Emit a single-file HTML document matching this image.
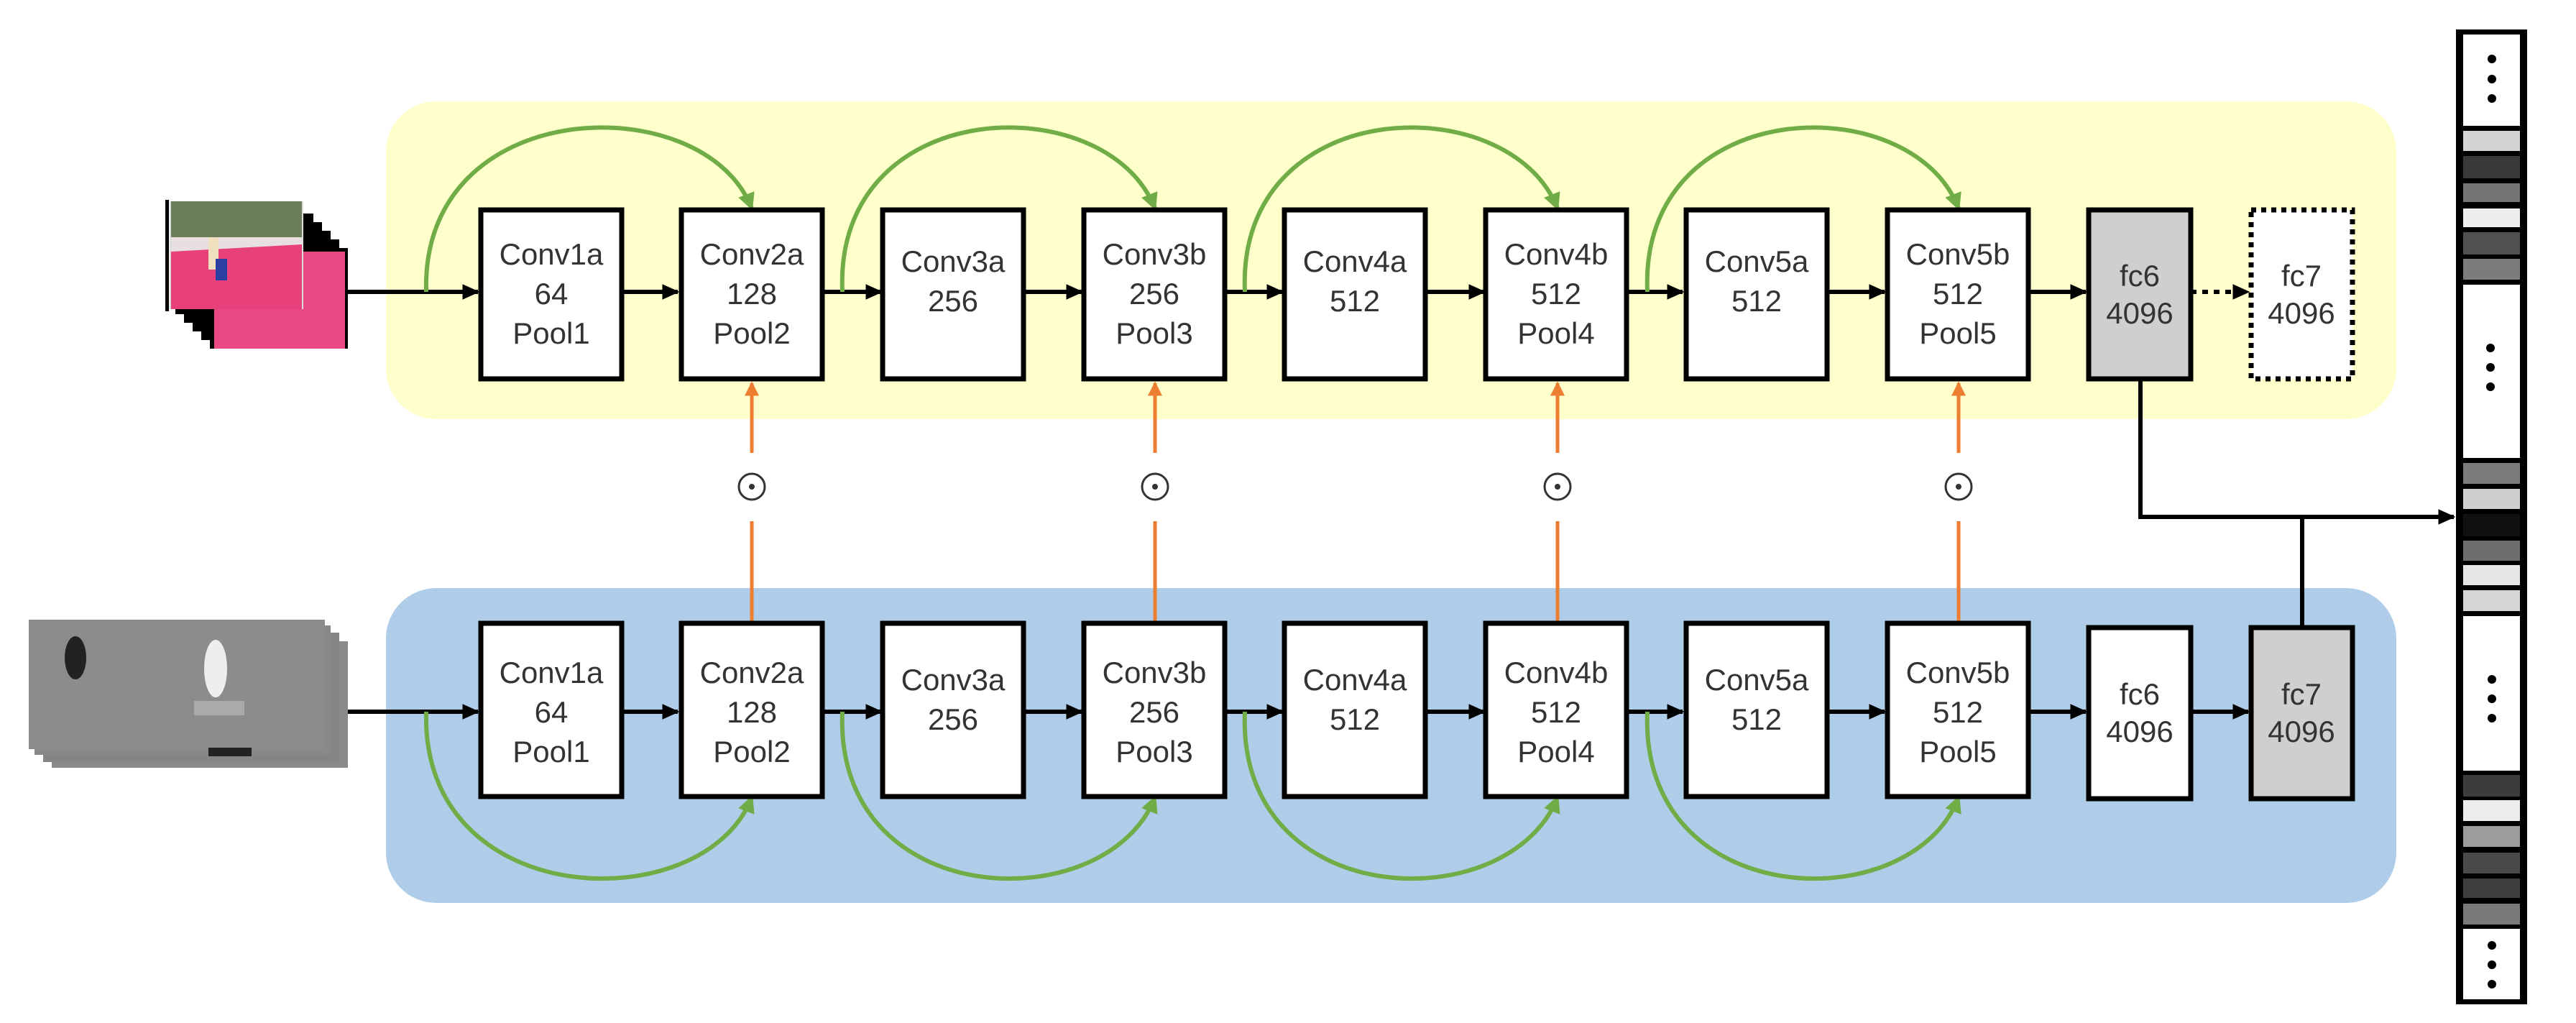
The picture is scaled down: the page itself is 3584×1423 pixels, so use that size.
<!DOCTYPE html>
<html><head><meta charset="utf-8"><style>
html,body{margin:0;padding:0;background:#fff;}
svg{display:block;}
text{font-family:"Liberation Sans","DejaVu Sans",sans-serif;font-size:42px;fill:#333;text-anchor:middle;}
</style></head><body>
<svg width="3584" height="1423" viewBox="0 0 3584 1423" xmlns="http://www.w3.org/2000/svg">
<defs>
<marker id="ab" markerWidth="4" markerHeight="3.6" refX="3.6" refY="1.8" orient="auto" markerUnits="strokeWidth"><path d="M0,0 L4,1.8 L0,3.6 z" fill="#000"/></marker>
<marker id="ag" markerWidth="4" markerHeight="4" refX="3.5" refY="2" orient="auto" markerUnits="strokeWidth"><path d="M0,0 L4,2 L0,4 z" fill="#70ad47"/></marker>
<marker id="ao" markerWidth="4" markerHeight="4" refX="3.5" refY="2" orient="auto" markerUnits="strokeWidth"><path d="M0,0 L4,2 L0,4 z" fill="#ed7d31"/></marker>
</defs>
<rect x="537" y="141" width="2797" height="442" rx="70" fill="#ffffcc"/>
<rect x="537" y="818" width="2797" height="438" rx="70" fill="#afcde9"/>

<!-- input frames top -->
<g>
<rect x="292" y="345" width="192" height="140" fill="#000"/>
<rect x="280" y="333" width="192" height="140" fill="#000"/>
<rect x="268" y="321" width="192" height="140" fill="#000"/>
<rect x="256" y="309" width="192" height="140" fill="#000"/>
<rect x="244" y="297" width="192" height="140" fill="#000"/>
<rect x="298" y="350" width="182" height="135" fill="#ea4a84"/>
<rect x="236" y="280" width="186" height="150" fill="#dcdcdc"/>
<rect x="238" y="280" width="182" height="50" fill="#6b7e5c"/>
<rect x="238" y="330" width="182" height="30" fill="#e8e0e0"/>
<polygon points="238,350 420,340 420,430 238,430" fill="#e8407a"/>
<rect x="290" y="330" width="14" height="45" fill="#f0e0c0"/>
<rect x="300" y="360" width="16" height="30" fill="#2a3fa0"/>
<rect x="230" y="278" width="5" height="155" fill="#000"/>
</g>
<!-- flow frames bottom -->
<g>
<rect x="72" y="892" width="412" height="176" fill="#8a8a8a"/>
<rect x="60" y="880" width="412" height="180" fill="#858585"/>
<rect x="48" y="870" width="412" height="180" fill="#888"/>
<rect x="40" y="862" width="412" height="180" fill="#8c8c8c"/>
<ellipse cx="105" cy="915" rx="15" ry="30" fill="#222"/>
<ellipse cx="300" cy="930" rx="16" ry="40" fill="#eee"/>
<rect x="270" y="975" width="70" height="20" fill="#aaa"/>
<rect x="290" y="1040" width="60" height="12" fill="#222"/>
</g>

<!-- main arrows -->
<g stroke="#000" stroke-width="6" fill="none" marker-end="url(#ab)">
<line x1="484" y1="406" x2="665" y2="406"/>
<line x1="865" y1="406" x2="943" y2="406"/>
<line x1="1145" y1="406" x2="1226" y2="406"/>
<line x1="1427" y1="406" x2="1505" y2="406"/>
<line x1="1706" y1="406" x2="1784" y2="406"/>
<line x1="1986" y1="406" x2="2065" y2="406"/>
<line x1="2266" y1="406" x2="2341" y2="406"/>
<line x1="2545" y1="406" x2="2622" y2="406"/>
<line x1="2824" y1="406" x2="2902" y2="406"/>
<line x1="3048" y1="406" x2="3128" y2="406" stroke-dasharray="8,8"/>
<line x1="484" y1="990" x2="665" y2="990"/>
<line x1="865" y1="990" x2="943" y2="990"/>
<line x1="1145" y1="990" x2="1226" y2="990"/>
<line x1="1427" y1="990" x2="1505" y2="990"/>
<line x1="1706" y1="990" x2="1784" y2="990"/>
<line x1="1986" y1="990" x2="2065" y2="990"/>
<line x1="2266" y1="990" x2="2341" y2="990"/>
<line x1="2545" y1="990" x2="2622" y2="990"/>
<line x1="2824" y1="990" x2="2902" y2="990"/>
<line x1="3048" y1="990" x2="3128" y2="990"/>
</g>

<!-- green arcs -->
<g stroke="#70ad47" stroke-width="6" fill="none" marker-end="url(#ag)">
<path d="M593,406 C585,130 980,120 1046,290"/>
<path d="M1172,406 C1160,130 1540,120 1607,290"/>
<path d="M1732,406 C1720,130 2100,120 2167,290"/>
<path d="M2292,406 C2280,130 2660,120 2725,290"/>
<path d="M593,990 C585,1270 980,1280 1046,1109"/>
<path d="M1172,990 C1160,1270 1540,1280 1607,1109"/>
<path d="M1732,990 C1720,1270 2100,1280 2167,1109"/>
<path d="M2292,990 C2280,1270 2660,1280 2725,1109"/>
</g>

<!-- orange -->
<g stroke="#ed7d31" stroke-width="5" fill="none">
<line x1="1046" y1="865" x2="1046" y2="725"/><line x1="1046" y1="630" x2="1046" y2="533" marker-end="url(#ao)"/>
<line x1="1607" y1="865" x2="1607" y2="725"/><line x1="1607" y1="630" x2="1607" y2="533" marker-end="url(#ao)"/>
<line x1="2167" y1="865" x2="2167" y2="725"/><line x1="2167" y1="630" x2="2167" y2="533" marker-end="url(#ao)"/>
<line x1="2725" y1="865" x2="2725" y2="725"/><line x1="2725" y1="630" x2="2725" y2="533" marker-end="url(#ao)"/>
</g>
<g stroke="#333" stroke-width="3" fill="none">
<circle cx="1046" cy="677" r="18"/><circle cx="1607" cy="677" r="18"/><circle cx="2167" cy="677" r="18"/><circle cx="2725" cy="677" r="18"/>
</g>
<g fill="#333"><circle cx="1046" cy="677" r="4"/><circle cx="1607" cy="677" r="4"/><circle cx="2167" cy="677" r="4"/><circle cx="2725" cy="677" r="4"/></g>

<!-- boxes -->
<g stroke="#000" stroke-width="7" fill="#fff">
<rect x="669" y="292" width="196" height="235"/>
<rect x="948" y="292" width="196" height="235"/>
<rect x="1228" y="292" width="196" height="235"/>
<rect x="1508" y="292" width="196" height="235"/>
<rect x="1787" y="292" width="196" height="235"/>
<rect x="2067" y="292" width="196" height="235"/>
<rect x="2346" y="292" width="196" height="235"/>
<rect x="2626" y="292" width="196" height="235"/>
<rect x="2906" y="292" width="142" height="235" fill="#d0cece"/>
<rect x="3132" y="292" width="141" height="235" stroke-dasharray="7,7"/>
<rect x="669" y="867" width="196" height="241"/>
<rect x="948" y="867" width="196" height="241"/>
<rect x="1228" y="867" width="196" height="241"/>
<rect x="1508" y="867" width="196" height="241"/>
<rect x="1787" y="867" width="196" height="241"/>
<rect x="2067" y="867" width="196" height="241"/>
<rect x="2346" y="867" width="196" height="241"/>
<rect x="2626" y="867" width="196" height="241"/>
<rect x="2906" y="873" width="142" height="238"/>
<rect x="3132" y="873" width="141" height="238" fill="#d0cece"/>
</g>

<!-- text top -->
<g>
<text x="767" y="368">Conv1a</text><text x="767" y="423">64</text><text x="767" y="478">Pool1</text>
<text x="1046" y="368">Conv2a</text><text x="1046" y="423">128</text><text x="1046" y="478">Pool2</text>
<text x="1326" y="378">Conv3a</text><text x="1326" y="433">256</text>
<text x="1606" y="368">Conv3b</text><text x="1606" y="423">256</text><text x="1606" y="478">Pool3</text>
<text x="1885" y="378">Conv4a</text><text x="1885" y="433">512</text>
<text x="2165" y="368">Conv4b</text><text x="2165" y="423">512</text><text x="2165" y="478">Pool4</text>
<text x="2444" y="378">Conv5a</text><text x="2444" y="433">512</text>
<text x="2724" y="368">Conv5b</text><text x="2724" y="423">512</text><text x="2724" y="478">Pool5</text>
<text x="2977" y="398">fc6</text><text x="2977" y="450">4096</text>
<text x="3202" y="398">fc7</text><text x="3202" y="450">4096</text>
</g>
<g>
<text x="767" y="950">Conv1a</text><text x="767" y="1005">64</text><text x="767" y="1060">Pool1</text>
<text x="1046" y="950">Conv2a</text><text x="1046" y="1005">128</text><text x="1046" y="1060">Pool2</text>
<text x="1326" y="960">Conv3a</text><text x="1326" y="1015">256</text>
<text x="1606" y="950">Conv3b</text><text x="1606" y="1005">256</text><text x="1606" y="1060">Pool3</text>
<text x="1885" y="960">Conv4a</text><text x="1885" y="1015">512</text>
<text x="2165" y="950">Conv4b</text><text x="2165" y="1005">512</text><text x="2165" y="1060">Pool4</text>
<text x="2444" y="960">Conv5a</text><text x="2444" y="1015">512</text>
<text x="2724" y="950">Conv5b</text><text x="2724" y="1005">512</text><text x="2724" y="1060">Pool5</text>
<text x="2977" y="980">fc6</text><text x="2977" y="1032">4096</text>
<text x="3202" y="980">fc7</text><text x="3202" y="1032">4096</text>
</g>

<!-- fusion lines -->
<g stroke="#000" stroke-width="6" fill="none">
<polyline points="2978,530 2978,719 3414,719" marker-end="url(#ab)"/>
<line x1="3203" y1="873" x2="3203" y2="719"/>
</g>

<!-- feature strip -->
<rect x="3417" y="41" width="99" height="1356" fill="#000"/>
<g>
<rect x="3427" y="48" width="79" height="127" fill="#fff"/>
<rect x="3427" y="182" width="79" height="28" fill="#d4d4d4"/>
<rect x="3427" y="217" width="79" height="31" fill="#3a3a3a"/>
<rect x="3427" y="255" width="79" height="26" fill="#757575"/>
<rect x="3427" y="290" width="79" height="26" fill="#eee"/>
<rect x="3427" y="323" width="79" height="31" fill="#505050"/>
<rect x="3427" y="360" width="79" height="29" fill="#7c7c7c"/>
<rect x="3427" y="396" width="79" height="241" fill="#fff"/>
<rect x="3427" y="644" width="79" height="29" fill="#7c7c7c"/>
<rect x="3427" y="680" width="79" height="28" fill="#cfcfcf"/>
<rect x="3427" y="715" width="79" height="31" fill="#111"/>
<rect x="3427" y="752" width="79" height="28" fill="#6e6e6e"/>
<rect x="3427" y="786" width="79" height="28" fill="#e6e6e6"/>
<rect x="3427" y="821" width="79" height="29" fill="#d6d6d6"/>
<rect x="3427" y="857" width="79" height="215" fill="#fff"/>
<rect x="3427" y="1078" width="79" height="30" fill="#3c3c3c"/>
<rect x="3427" y="1113" width="79" height="29" fill="#ededed"/>
<rect x="3427" y="1149" width="79" height="29" fill="#9c9c9c"/>
<rect x="3427" y="1186" width="79" height="29" fill="#4a4a4a"/>
<rect x="3427" y="1222" width="79" height="27" fill="#3e3e3e"/>
<rect x="3427" y="1257" width="79" height="29" fill="#7a7a7a"/>
<rect x="3427" y="1292" width="79" height="98" fill="#fff"/>
</g>
<g fill="#000">
<circle cx="3467" cy="82" r="6"/><circle cx="3467" cy="110" r="6"/><circle cx="3467" cy="137" r="6"/>
<circle cx="3465" cy="484" r="6"/><circle cx="3465" cy="511" r="6"/><circle cx="3465" cy="538" r="6"/>
<circle cx="3467" cy="945" r="6"/><circle cx="3467" cy="972" r="6"/><circle cx="3467" cy="999" r="6"/>
<circle cx="3467" cy="1315" r="6"/><circle cx="3467" cy="1342" r="6"/><circle cx="3467" cy="1369" r="6"/>
</g>
</svg>
</body></html>
